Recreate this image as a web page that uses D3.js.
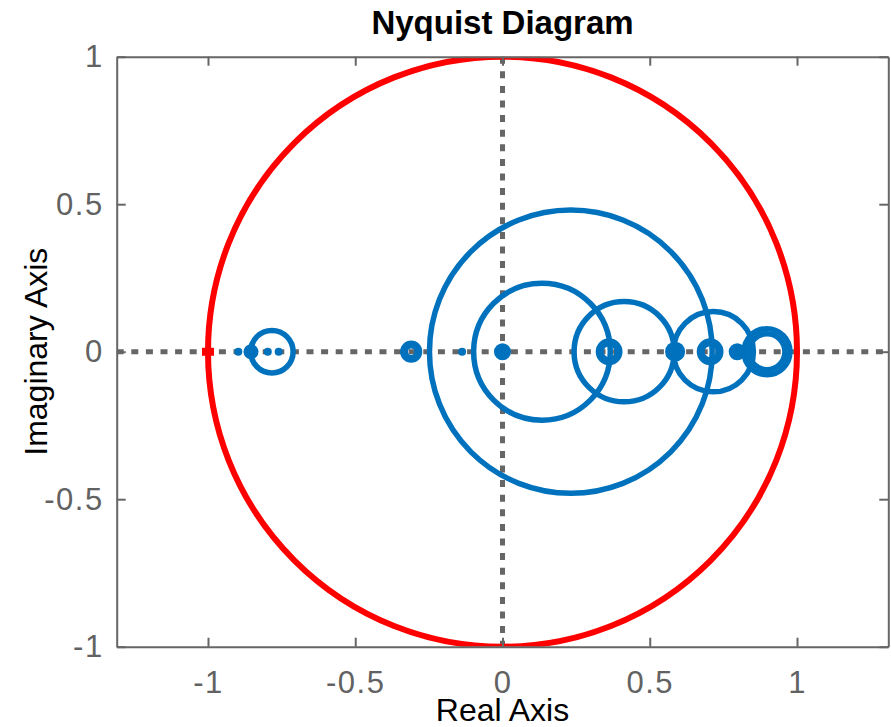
<!DOCTYPE html>
<html lang="en">
<head>
<meta charset="UTF-8">
<title>Nyquist Diagram</title>
<script src="https://d3js.org/d3.v7.min.js"></script>
<style>
    body { margin: 0; background: #fff; }
    svg { display: block; font-family: "Liberation Sans", Arial, sans-serif; }
    .tick text { fill: #626262; font-size: 31px; letter-spacing: 1.5px; }
    .tick line, .domain { stroke: #666; stroke-width: 2; }
</style>
</head>
<body>
<svg id="main" width="891" height="727"></svg>
<script>
    // real-axis centres and radii of the big loops of the curve
    const loopCenters = [0.232, 0.134, 0.413, 0.716, 0.898, 0.898, -0.783];
    const loopRadii   = [0.480, 0.232, 0.170, 0.136, 0.061, 0.078, 0.072];
    // tiny loops that show as thick rings
    const ringCenters = [-0.31, 0.362, 0.705];
    const ringRadii   = [0.024, 0.032, 0.032];
    // tiny loops that show as filled dots
    const dotCenters = [-0.897, -0.854, -0.797, -0.76, -0.137, 0.0, 0.586, 0.797];
    const dotRadii   = [0.0136, 0.0255, 0.0136, 0.0136, 0.0136, 0.029, 0.034, 0.029];
    const critical = [-1, 0];
    const tickVals = [-1, -0.5, 0, 0.5, 1];
    const tickLabels = ['-1', '-0.5', '0', '0.5', '1'];

    (function() {
    let svg = d3.select('svg#main');
    let pl = 116.7, pr = 888.3, pt = 56.7, pb = 646.7;

    let x = d3.scaleLinear().domain([-1.31, 1.31]).range([pl, pr]);
    let y = d3.scaleLinear().domain([-1, 1]).range([pb, pt]);
    let fmt = function(d) { return tickLabels[tickVals.indexOf(d)]; };

    svg.append('clipPath').attr('id', 'plotclip')
        .append('rect')
        .attr('x', pl).attr('y', pt)
        .attr('width', pr - pl).attr('height', pb - pt);

    let plot = svg.append('g').attr('clip-path', 'url(#plotclip)');

    // dotted zero lines
    plot.append('line')
        .attr('x1', x(-1.31)).attr('x2', x(1.31))
        .attr('y1', y(0)).attr('y2', y(0))
        .attr('stroke', '#666').attr('stroke-width', 5)
        .attr('stroke-dasharray', '7,7.6');
    plot.append('line')
        .attr('x1', x(0)).attr('x2', x(0))
        .attr('y1', y(1)).attr('y2', y(-1))
        .attr('stroke', '#666').attr('stroke-width', 5)
        .attr('stroke-dasharray', '7,7.6');

    let blue = '#0072BD';

    plot.selectAll('ellipse.loop')
        .data(loopCenters)
        .enter().append('ellipse')
        .attr('class', 'loop')
        .attr('cx', function(d) { return x(d); })
        .attr('cy', y(0))
        .attr('rx', function(d, i) { return x(loopRadii[i]) - x(0); })
        .attr('ry', function(d, i) { return y(0) - y(loopRadii[i]); })
        .attr('fill', 'none').attr('stroke', blue).attr('stroke-width', 5.5);

    plot.selectAll('ellipse.ring')
        .data(ringCenters)
        .enter().append('ellipse')
        .attr('class', 'ring')
        .attr('cx', function(d) { return x(d); })
        .attr('cy', y(0))
        .attr('rx', function(d, i) { return x(ringRadii[i]) - x(0); })
        .attr('ry', function(d, i) { return y(0) - y(ringRadii[i]); })
        .attr('fill', 'none').attr('stroke', blue).attr('stroke-width', 8);

    plot.selectAll('ellipse.dot')
        .data(dotCenters)
        .enter().append('ellipse')
        .attr('class', 'dot')
        .attr('cx', function(d) { return x(d); })
        .attr('cy', y(0))
        .attr('rx', function(d, i) { return x(dotRadii[i]) - x(0); })
        .attr('ry', function(d, i) { return y(0) - y(dotRadii[i]); })
        .attr('fill', blue);

    // unit circle
    plot.append('ellipse')
        .attr('cx', x(0)).attr('cy', y(0))
        .attr('rx', x(1) - x(0)).attr('ry', y(0) - y(1))
        .attr('fill', 'none').attr('stroke', '#ff0000').attr('stroke-width', 6);

    // critical point marker
    plot.append('line')
        .attr('x1', x(critical[0]) - 6).attr('x2', x(critical[0]) + 6)
        .attr('y1', y(critical[1])).attr('y2', y(critical[1]))
        .attr('stroke', '#ff0000').attr('stroke-width', 8);

    // axes box with inward ticks
    svg.append('g').attr('transform', 'translate(0,' + pb + ')')
        .call(d3.axisBottom(x).tickValues(tickVals).tickFormat(fmt)
            .tickSize(-9).tickSizeOuter(0).tickPadding(24));
    svg.append('g').attr('transform', 'translate(0,' + pt + ')')
        .call(d3.axisTop(x).tickValues(tickVals).tickFormat('')
            .tickSize(-9).tickSizeOuter(0));
    svg.append('g').attr('transform', 'translate(' + pl + ',0)')
        .call(d3.axisLeft(y).tickValues(tickVals).tickFormat(fmt)
            .tickSize(-9).tickSizeOuter(0).tickPadding(13));
    svg.append('g').attr('transform', 'translate(' + pr + ',0)')
        .call(d3.axisRight(y).tickValues(tickVals).tickFormat('')
            .tickSize(-9).tickSizeOuter(0));
    svg.selectAll('.domain').attr('stroke', '#666').attr('stroke-width', 2);
    svg.selectAll('g[font-family]').attr('font-family', null).attr('font-size', null);

    // labels
    svg.append('text')
        .attr('x', x(0)).attr('y', 34)
        .attr('text-anchor', 'middle')
        .style('font-size', '33px').style('font-weight', 'bold')
        .text('Nyquist Diagram');
    svg.append('text')
        .attr('x', x(0)).attr('y', 721)
        .attr('text-anchor', 'middle')
        .style('font-size', '32px')
        .text('Real Axis');
    svg.append('text')
        .attr('transform', 'translate(47,' + y(0) + ') rotate(-90)')
        .attr('text-anchor', 'middle')
        .style('font-size', '32px')
        .text('Imaginary Axis');
    })();
</script>
</body>
</html>
